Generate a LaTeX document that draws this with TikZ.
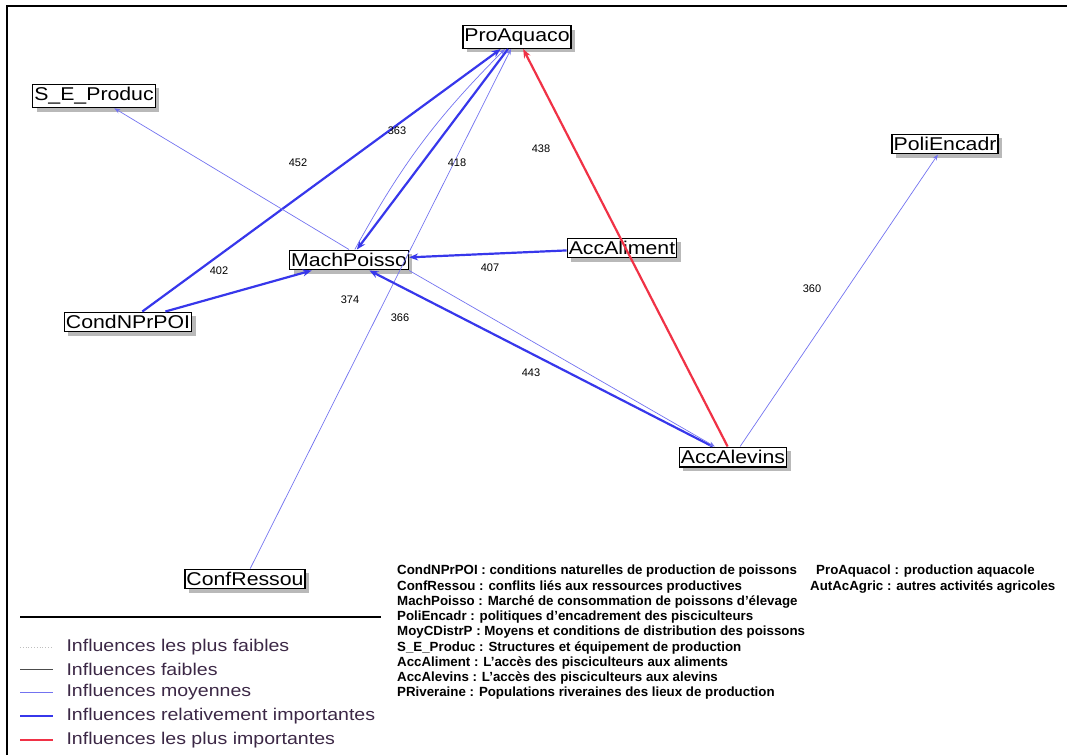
\documentclass[tikz,border=0pt]{standalone}
\usepackage{fontspec}
\setmainfont{Liberation Sans}
\newfontfamily\boxfont[FakeStretch=1.15]{Liberation Sans}
\usetikzlibrary{arrows.meta,shadows}

\definecolor{strongblue}{RGB}{55,55,235}
\definecolor{midblue}{RGB}{115,115,240}
\definecolor{topred}{RGB}{240,50,70}
\definecolor{keytext}{RGB}{60,40,70}

\begin{document}
\begin{tikzpicture}[x=1pt, y=-1pt,
    var/.style={draw, line width=1.4pt, fill=white, inner xsep=1.5pt, inner ysep=3pt,
      font=\boxfont\fontsize{18.5}{18.5}\selectfont,
      drop shadow={shadow xshift=4pt, shadow yshift=-4pt, fill=black!55}},
    val/.style={font=\fontsize{11}{11}\selectfont},
    medium/.style={midblue, line width=0.7pt, -{Stealth[length=6pt, width=4.5pt]}},
    strong/.style={strongblue, line width=2.2pt, -{Stealth[length=9pt, width=7pt]}},
    strongest/.style={topred, line width=2.2pt, -{Stealth[length=9pt, width=7pt]}},
    keytxt/.style={anchor=west, text=keytext, font=\boxfont\fontsize{17}{17}\selectfont},
    abbr/.style={anchor=north west, inner sep=0pt, font=\bfseries\fontsize{13.3}{15.25}\selectfont}]

    \useasboundingbox (0, 0) rectangle (1067, 755);
    \draw[line width=2.2pt] (7, 755) -- (7, 6) -- (1067, 6);

    % variables
    \node[var] (ProAquaco) at (517, 37) {ProAquaco};
    \node[var] (S_E_Produc) at (94, 96) {S\_E\_Produc};
    \node[var] (PoliEncadr) at (945, 144) {PoliEncadr};
    \node[var] (MachPoisso) at (349, 260) {MachPoisso};
    \node[var] (AccAliment) at (622, 248) {AccAliment};
    \node[var] (CondNPrPOI) at (128, 322) {CondNPrPOI};
    \node[var] (AccAlevins) at (733, 457) {AccAlevins};
    \node[var] (ConfRessou) at (245, 579) {ConfRessou};

    % influences
    \draw[strong] (CondNPrPOI) -- (ProAquaco);
    \draw[strong] (CondNPrPOI) -- (MachPoisso);
    \draw[medium] (MachPoisso.north) -- (S_E_Produc);
    \draw[strong] (ProAquaco) -- (MachPoisso);
    \draw[medium] (MachPoisso) to[bend left=8] (ProAquaco);
    \draw[medium] (ConfRessou) -- (ProAquaco);
    \draw[strong] (AccAliment) -- (MachPoisso);
    \draw[strongest] (AccAlevins) -- (ProAquaco);
    \draw[strong] (AccAlevins) -- (MachPoisso);
    \draw[medium] (MachPoisso.south east) -- (AccAlevins.150);
    \draw[medium] (AccAlevins) -- (PoliEncadr);

    \node[val] (v452) at (298, 163) {452};
    \node[val] (v363) at (397, 131) {363};
    \node[val] (v418) at (457, 163) {418};
    \node[val] (v438) at (541, 149) {438};
    \node[val] (v407) at (490, 268) {407};
    \node[val] (v402) at (219, 271) {402};
    \node[val] (v374) at (350, 300) {374};
    \node[val] (v366) at (400, 318) {366};
    \node[val] (v443) at (531, 373) {443};
    \node[val] (v360) at (812, 289) {360};

    % key
    \draw[line width=1.2pt] (20, 617) -- (381, 617);
    \draw[black!25, dotted, line width=0.8pt] (20, 647) -- (53, 647);
    \draw[black!70, line width=0.7pt] (20, 669) -- (53, 669);
    \draw[midblue, line width=0.9pt] (20, 692) -- (53, 692);
    \draw[strongblue, line width=2.2pt] (20, 716) -- (53, 716);
    \draw[topred, line width=2.2pt] (20, 740) -- (53, 740);
    \node[keytxt] (k1) at (63, 647) {Influences les plus faibles};
    \node[keytxt] (k2) at (63, 669) {Influences faibles};
    \node[keytxt] (k3) at (63, 692) {Influences moyennes};
    \node[keytxt] (k4) at (63, 716) {Influences relativement importantes};
    \node[keytxt] (k5) at (63, 740) {Influences les plus importantes};

    \node[abbr, align=left] (abbrev) at (397, 565)
    {CondNPrPOI : conditions naturelles de production de poissons \\
      ConfRessou : conflits liés aux ressources productives \\
      MachPoisso : Marché de consommation de poissons d'élevage \\
      PoliEncadr : politiques d'encadrement des pisciculteurs \\
      MoyCDistrP : Moyens et conditions de distribution des poissons \\
      S\_E\_Produc : Structures et équipement de production \\
      AccAliment : L'accès des pisciculteurs aux aliments \\
      AccAlevins : L'accès des pisciculteurs aux alevins \\
      PRiveraine : Populations riveraines des lieux de production};
    \node[abbr] (abbrev2) at (816, 565) {ProAquacol : production aquacole};
    \node[abbr] (abbrev3) at (810, 580.25) {AutAcAgric : autres activités agricoles};
\end{tikzpicture}
\end{document}
